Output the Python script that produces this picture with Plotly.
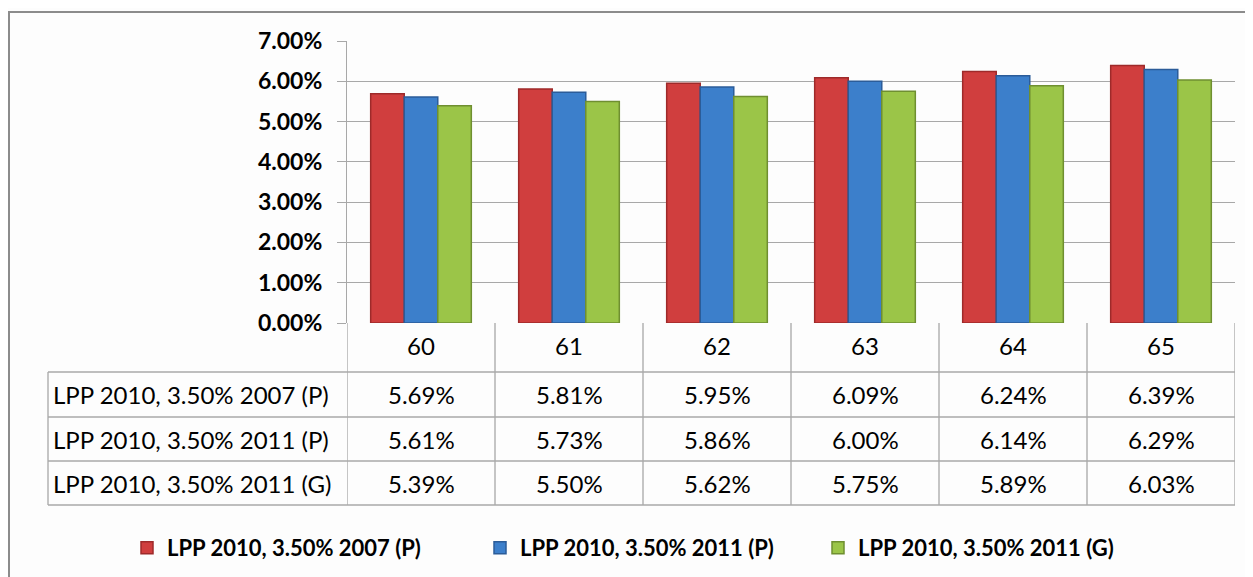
import plotly.graph_objects as go

categories = ["60", "61", "62", "63", "64", "65"]
series_names = ["LPP 2010, 3.50% 2007 (P)", "LPP 2010, 3.50% 2011 (P)", "LPP 2010, 3.50% 2011 (G)"]
s2007_p = [0.0569, 0.0581, 0.0595, 0.0609, 0.0624, 0.0639]
s2011_p = [0.0561, 0.0573, 0.0586, 0.0600, 0.0614, 0.0629]
s2011_g = [0.0539, 0.0550, 0.0562, 0.0575, 0.0589, 0.0603]
series_values = [s2007_p, s2011_p, s2011_g]
y_ticks = [0.00, 0.01, 0.02, 0.03, 0.04, 0.05, 0.06, 0.07]

colors = ["#D03E3E", "#3C7FCB", "#9BC548"]
edges = ["#9E2A2A", "#2B5C99", "#6F8F30"]

OFF = 8  # page body margin: figure is drawn 8px right/down of the window corner
W, H = 1253, 577
L, R, T, B = 347 - OFF, 1235 - OFF, 41 - OFF, 323 - OFF  # plot box (figure px)


def px(x):
    return (x - OFF - L) / (R - L)


def py(y):
    return (B - (y - OFF)) / (B - T)


legend_ids = ["legend", "legend2", "legend3"]
legend_left = [127, 480, 818]

fig = go.Figure()
for name, vals, c, e, lg in zip(series_names, series_values, colors, edges, legend_ids):
    fig.add_trace(go.Bar(
        x=list(range(len(categories))), y=vals, name=name,
        marker=dict(color=c, line=dict(color=e, width=1.5)),
        hoverinfo="y", legend=lg,
    ))

grid = "#A8A8A8"
shapes = []
annotations = []

header_mid = 345
row_lines = [372, 417, 461, 505]
label_left = 48

for i in range(len(categories) + 1):
    shapes.append(dict(type="line", xref="x", yref="paper", x0=i - 0.5, x1=i - 0.5,
                       y0=py(323), y1=py(row_lines[-1]), line=dict(color=grid, width=1.3)))
shapes.append(dict(type="line", xref="paper", yref="paper", x0=px(label_left), x1=px(label_left),
                   y0=py(row_lines[0]), y1=py(row_lines[-1]), line=dict(color=grid, width=1.3)))
for yl in row_lines:
    shapes.append(dict(type="line", xref="paper", yref="paper", x0=px(label_left), x1=1,
                       y0=py(yl), y1=py(yl), line=dict(color=grid, width=1.3)))
shapes.append(dict(type="rect", xref="paper", yref="paper", x0=px(9), x1=px(1300),
                   y0=py(12), y1=py(640), line=dict(color="#8C8C8C", width=2)))

font_val = dict(family="Lato", size=24, color="#000000")
font_lbl = dict(family="Lato", size=24, color="#000000")
for i, c in enumerate(categories):
    annotations.append(dict(xref="x", yref="paper", x=i, y=py(header_mid),
                            text=c, showarrow=False, font=font_val, xanchor="center", yanchor="middle"))
for r, (name, vals) in enumerate(zip(series_names, series_values)):
    ymid = py((row_lines[r] + row_lines[r + 1]) / 2)
    annotations.append(dict(xref="paper", yref="paper", x=px(51), y=ymid, text=name, showarrow=False,
                            font=font_lbl, xanchor="left", yanchor="middle"))
    for i, v in enumerate(vals):
        annotations.append(dict(xref="x", yref="paper", x=i, y=ymid, text=f"{v:.2%}", showarrow=False,
                                font=font_val, xanchor="center", yanchor="middle"))

legend_common = dict(orientation="h", xref="container", yref="container", xanchor="left",
                     y=1 - (548 - OFF) / H, yanchor="middle", bgcolor="rgba(0,0,0,0)",
                     font=dict(family="Lato", size=22, color="#000000", weight="bold"))
legends = {lg: dict(legend_common, x=(xl - OFF) / W) for lg, xl in zip(legend_ids, legend_left)}

fig.update_layout(
    width=W, height=H,
    margin=dict(l=L, r=W - R, t=T, b=H - B),
    paper_bgcolor="#FDFDFD", plot_bgcolor="#FDFDFD",
    barmode="group", bargap=0.32, bargroupgap=0,
    showlegend=True,
    xaxis=dict(range=[-0.5, len(categories) - 0.5], showticklabels=False, showgrid=False,
               zeroline=False, showline=False, ticks=""),
    yaxis=dict(range=[0, 0.07], tickvals=y_ticks, tickformat=".2%", showgrid=True,
               gridcolor=grid, gridwidth=1.3, zeroline=False, showline=True, linecolor=grid,
               linewidth=1.3, ticks="outside", ticklen=9, tickcolor=grid, tickwidth=1.3,
               ticklabelstandoff=10,
               tickfont=dict(family="Lato", size=23, color="#000000", weight="bold")),
    shapes=shapes, annotations=annotations,
    **legends,
)

fig.write_html("out.html")
